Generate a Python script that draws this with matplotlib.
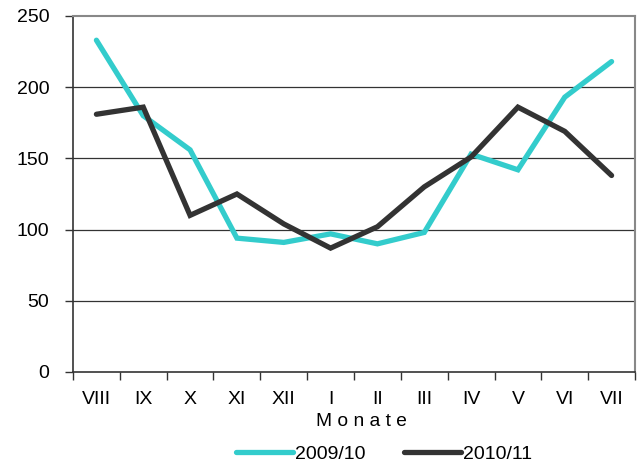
import matplotlib
matplotlib.use("Agg")
import matplotlib.pyplot as plt
import numpy as np

months = ["VIII", "IX", "X", "XI", "XII", "I", "II", "III", "IV", "V", "VI", "VII"]
s2009 = [233, 180, 156, 94, 91, 97, 90, 98, 153, 142, 193, 218]
s2010 = [181, 186, 110, 125, 104, 87, 102, 130, 151, 186, 169, 138]
yticks = [0, 50, 100, 150, 200, 250]

plt.rcParams['font.family'] = ['Liberation Sans', 'DejaVu Sans']

fig = plt.figure(figsize=(6.42, 4.66), dpi=100)
ax = fig.add_axes([73/642, 1-372/466, (635-73)/642, (372-16)/466])

x = np.arange(len(months))
ax.plot(x, s2009, color="#33CCCC", lw=3.8, solid_capstyle="round", solid_joinstyle="miter", label="2009/10", zorder=3)
ax.plot(x, s2010, color="#333333", lw=3.8, solid_capstyle="round", solid_joinstyle="miter", label="2010/11", zorder=4)

ax.set_xlim(-0.5, len(months) - 0.5)
ax.set_ylim(0, 250)
ax.set_yticks(yticks)
ax.set_yticklabels([str(v) for v in yticks], fontsize=14)
for v in yticks[1:-1]:
    ax.axhline(v, color="#333333", lw=0.9, zorder=1)

ax.set_xticks(x)
ax.set_xticklabels(months, fontsize=14)
ax.tick_params(axis='x', which='major', length=0, pad=14)
ax.set_xticks(np.arange(-0.5, len(months)), minor=True)
ax.tick_params(axis='x', which='minor', length=6, width=1, color="#333333", direction='out')
ax.tick_params(axis='y', length=6, width=1, color="#333333", pad=11)

for side in ["left", "bottom"]:
    ax.spines[side].set_color("#333333")
    ax.spines[side].set_linewidth(1.2)
for side in ["top", "right"]:
    ax.spines[side].set_color("#888888")
    ax.spines[side].set_linewidth(1.5)

ax.text(361.5/642, 1-421/466, "M o n a t e", fontsize=13.8, ha="center", va="center",
        transform=fig.transFigure)

leg = fig.legend(loc="center", bbox_to_anchor=(384/642, 1-454/466), ncol=2, frameon=False,
                 fontsize=14, handlelength=2.95, handletextpad=0.1, columnspacing=1.95)

fig.savefig("out.png", dpi=100)
